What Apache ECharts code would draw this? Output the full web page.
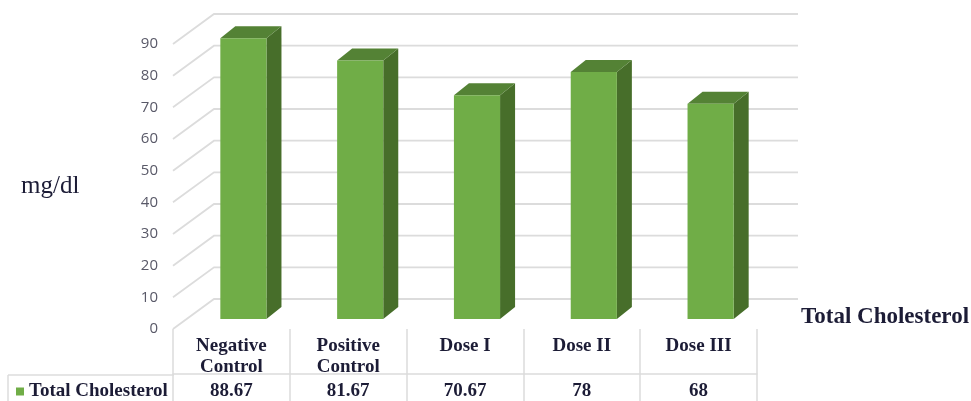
<!DOCTYPE html>
<html>
<head>
<meta charset="utf-8">
<script src="https://cdn.jsdelivr.net/npm/echarts@6/dist/echarts.min.js"></script>
<style>html,body{margin:0;padding:0;background:#fff;}#c{width:971px;height:401px;}</style>
</head>
<body>
<div id="c"></div>
<script>
var categories = ['Negative\nControl', 'Positive\nControl', 'Dose I', 'Dose II', 'Dose III'];
var valueLabels = ['88.67', '81.67', '70.67', '78', '68'];
var values = [88.67, 81.67, 70.67, 78, 68];
var yTicks = [0, 10, 20, 30, 40, 50, 60, 70, 80, 90];
var seriesName = 'Total Cholesterol';

var WALL = [41, -30];      // back wall depth offset (px)
var BAR_OFF = [12, -10];   // bar front face offset
var BAR_DEPTH = [15, -12]; // bar depth
var FRONT = '#70ad47', TOP = '#548235', SIDE = '#476e2a';
var GRID_C = '#dcdcdc';
var TXT = '#1c1c36';
var SERIF = '"Liberation Serif", "DejaVu Serif", serif';

var chart = echarts.init(document.getElementById('c'), null, {renderer: 'canvas'});

chart.setOption({
  animation: false,
  title: [
    {text: 'mg/dl', left: 16, top: 169, textStyle: {fontFamily: SERIF, fontWeight: 'normal', fontSize: 25, color: TXT}},
    {text: 'Total Cholesterol', left: 796, top: 301, textStyle: {fontFamily: SERIF, fontWeight: 'bold', fontSize: 23, color: TXT}}
  ],
  legend: {
    data: [seriesName], left: 11, top: 377, icon: 'rect', itemWidth: 8, itemHeight: 8, itemGap: 0,
    textStyle: {fontFamily: SERIF, fontWeight: 'bold', fontSize: 19, color: TXT}
  },
  grid: {left: 173, right: 214, top: 44, bottom: 71, containLabel: false},
  xAxis: [
    {
      type: 'category', data: categories, position: 'bottom', boundaryGap: true,
      axisLine: {show: false},
      axisTick: {show: true, length: 75, lineStyle: {color: GRID_C, width: 1.5}},
      axisLabel: {fontFamily: SERIF, fontWeight: 'bold', fontSize: 19, color: TXT, lineHeight: 21, margin: 7, interval: 0}
    },
    {
      type: 'category', data: categories, position: 'bottom', offset: 45, boundaryGap: true,
      axisLine: {show: true, lineStyle: {color: GRID_C, width: 1.5}},
      axisTick: {show: false},
      axisLabel: {fontFamily: SERIF, fontWeight: 'bold', fontSize: 19, color: TXT, margin: 8, interval: 0,
        formatter: function (v, i) { return valueLabels[i]; }}
    }
  ],
  yAxis: {
    type: 'value', min: 0, max: 90, interval: 10,
    axisLine: {show: false}, axisTick: {show: false}, splitLine: {show: false},
    axisLabel: {fontFamily: '"Open Sans", "Noto Sans", sans-serif', fontSize: 15, color: '#595968', margin: 15, padding: [4, 0, 0, 0]}
  },
  graphic: [
    {type: 'line', shape: {x1: 8, y1: 375, x2: 174, y2: 375}, style: {stroke: GRID_C, lineWidth: 1.5}},
    {type: 'line', shape: {x1: 8, y1: 375, x2: 8, y2: 401}, style: {stroke: GRID_C, lineWidth: 1.5}}
  ],
  series: [
    {
      type: 'custom', name: 'walls', silent: true, z: 1,
      data: yTicks.map(function (t) { return [0, t]; }),
      renderItem: function (params, api) {
        var cs = params.coordSys;
        var p = api.coord([0, api.value(1)]);
        var x0 = cs.x, y0 = p[1];
        return {
          type: 'polyline',
          shape: {points: [[x0, y0], [x0 + WALL[0], y0 + WALL[1]], [x0 + cs.width + WALL[0], y0 + WALL[1]]]},
          style: {stroke: GRID_C, lineWidth: 1.8, fill: null}
        };
      }
    },
    {
      type: 'custom', name: seriesName, z: 3,
      itemStyle: {color: FRONT},
      data: values.map(function (v, i) { return [i, v]; }),
      renderItem: function (params, api) {
        var top = api.coord([api.value(0), api.value(1)]);
        var bot = api.coord([api.value(0), 0]);
        var w = api.size([1, 0])[0] * 0.395;
        var xl = top[0] - w / 2 + BAR_OFF[0], xr = top[0] + w / 2 + BAR_OFF[0];
        var yt = top[1] + BAR_OFF[1], yb = bot[1] + BAR_OFF[1];
        var dx = BAR_DEPTH[0], dy = BAR_DEPTH[1];
        return {
          type: 'group',
          children: [
            {type: 'polygon', shape: {points: [[xr, yt], [xr + dx, yt + dy], [xr + dx, yb + dy], [xr, yb]]}, style: {fill: SIDE}},
            {type: 'polygon', shape: {points: [[xl, yt], [xl + dx, yt + dy], [xr + dx, yt + dy], [xr, yt]]}, style: {fill: TOP}},
            {type: 'rect', shape: {x: xl, y: yt, width: xr - xl, height: yb - yt}, style: {fill: FRONT}}
          ]
        };
      }
    }
  ]
});
</script>
</body>
</html>
